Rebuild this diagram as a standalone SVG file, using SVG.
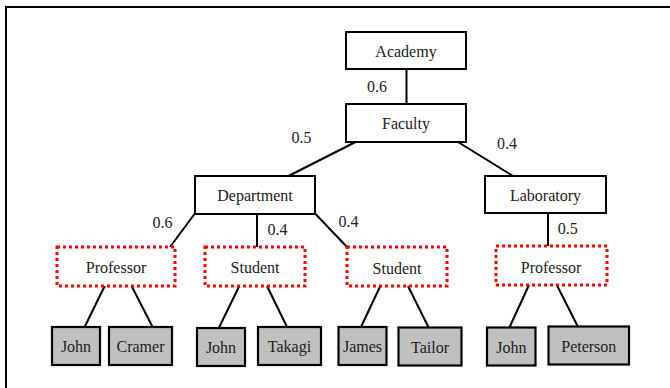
<svg xmlns="http://www.w3.org/2000/svg" width="670" height="388" viewBox="0 0 670 388">
<style>
text{font-family:'Liberation Serif','Times New Roman','DejaVu Serif',serif;font-size:16px;fill:#222;}
.c{text-anchor:middle;}
.box{fill:#fff;stroke:#000;stroke-width:2;}
.dot{fill:#fff;stroke:#ff0000;stroke-width:3;stroke-dasharray:3 3;}
.leaf{fill:#c0c0c0;stroke:#000;stroke-width:2.2;}
.ln{stroke:#000;stroke-width:2;fill:none;}
</style>
<rect x="6" y="7" width="700" height="420" fill="none" stroke="#000" stroke-width="2"/>
<g id="connectors" class="ln">
<line x1="406.5" y1="69" x2="406.5" y2="104"/>
<line x1="355.5" y1="142" x2="288.5" y2="176"/>
<line x1="458" y1="142" x2="513" y2="176"/>
<line x1="194.5" y1="214" x2="170" y2="247"/>
<line x1="257" y1="214" x2="257" y2="247"/>
<line x1="315.5" y1="214" x2="347" y2="247"/>
<line x1="548" y1="213" x2="548" y2="246"/>
<line x1="104.7" y1="286" x2="84.6" y2="327"/>
<line x1="131.6" y1="286" x2="152.6" y2="327"/>
<line x1="239.3" y1="286" x2="218.8" y2="328"/>
<line x1="267" y1="286" x2="287" y2="327"/>
<line x1="380.3" y1="286" x2="361" y2="327"/>
<line x1="408" y1="286" x2="428.6" y2="327.5"/>
<line x1="529" y1="285" x2="509.4" y2="327.5"/>
<line x1="556.8" y1="285" x2="577.8" y2="326.5"/>
</g>
<g id="labels" font-family="Liberation Serif, serif">
<text x="367" y="92">0.6</text>
<text x="291.5" y="143">0.5</text>
<text x="497" y="149">0.4</text>
<text x="152.6" y="228">0.6</text>
<text x="267.5" y="235">0.4</text>
<text x="338.5" y="227">0.4</text>
<text x="557.7" y="234">0.5</text>
</g>
<g id="academy"><rect class="box" x="346" y="32" width="120" height="37"/><text class="c" x="406" y="57">Academy</text></g>
<g id="faculty"><rect class="box" x="346" y="104" width="120" height="38"/><text class="c" x="406" y="129">Faculty</text></g>
<g id="department"><rect class="box" x="195" y="176" width="120" height="38"/><text class="c" x="255" y="201">Department</text></g>
<g id="laboratory"><rect class="box" x="485" y="176" width="121" height="37"/><text class="c" x="545.5" y="201">Laboratory</text></g>
<g id="professor1"><rect class="dot" x="57" y="247" width="118" height="39"/><text class="c" x="116" y="273">Professor</text></g>
<g id="student1"><rect class="dot" x="205" y="247" width="100" height="39"/><text class="c" x="255" y="273">Student</text></g>
<g id="student2"><rect class="dot" x="347" y="247" width="100" height="39"/><text class="c" x="397" y="274">Student</text></g>
<g id="professor2"><rect class="dot" x="496" y="246" width="111" height="39"/><text class="c" x="551" y="273">Professor</text></g>
<g id="john1"><rect class="leaf" x="52" y="327" width="48" height="38"/><text class="c" x="76" y="352">John</text></g>
<g id="cramer"><rect class="leaf" x="109" y="327" width="63" height="38"/><text class="c" x="140.5" y="352">Cramer</text></g>
<g id="john2"><rect class="leaf" x="197" y="328" width="48" height="38"/><text class="c" x="221" y="353">John</text></g>
<g id="takagi"><rect class="leaf" x="258" y="327" width="63" height="38"/><text class="c" x="289.5" y="352">Takagi</text></g>
<g id="james"><rect class="leaf" x="338.5" y="327" width="48" height="38"/><text class="c" x="362.5" y="352">James</text></g>
<g id="tailor"><rect class="leaf" x="398.5" y="327.5" width="63" height="38"/><text class="c" x="430" y="352.5">Tailor</text></g>
<g id="john3"><rect class="leaf" x="487" y="327.5" width="48.5" height="38"/><text class="c" x="511.3" y="352.5">John</text></g>
<g id="peterson"><rect class="leaf" x="548.5" y="326.5" width="80.5" height="38"/><text class="c" x="588.8" y="351.5">Peterson</text></g>
</svg>
